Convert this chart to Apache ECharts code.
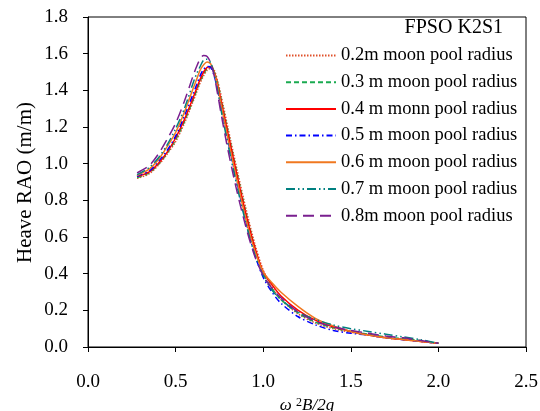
<!DOCTYPE html>
<html>
<head>
<meta charset="utf-8">
<script src="https://cdn.jsdelivr.net/npm/echarts@6/dist/echarts.min.js"></script>
<style>html,body{margin:0;padding:0;background:#fff}#c{width:540px;height:411px}</style>
</head>
<body>
<div id="c"></div>
<script>
const xs = [0.28,0.30,0.35,0.40,0.45,0.50,0.55,0.60,0.62,0.64,0.66,0.68,0.70,0.72,0.74,0.76,0.80,0.85,0.90,0.95,1.00,1.05,1.10,1.20,1.30,1.40,1.50,1.60,1.70,1.80,1.90,2.00];
const r02 = [0.92,0.925,0.945,0.99,1.05,1.12,1.22,1.34,1.39,1.44,1.48,1.51,1.52,1.51,1.45,1.37,1.19,0.97,0.76,0.57,0.42,0.33,0.26,0.18,0.13,0.10,0.08,0.065,0.05,0.04,0.03,0.02];
const r03 = [0.925,0.93,0.95,0.995,1.055,1.13,1.23,1.35,1.40,1.45,1.49,1.52,1.525,1.50,1.44,1.35,1.17,0.95,0.74,0.55,0.40,0.32,0.26,0.185,0.135,0.105,0.085,0.07,0.055,0.045,0.035,0.02];
const r04 = [0.93,0.935,0.955,1.00,1.06,1.14,1.24,1.36,1.41,1.46,1.50,1.525,1.53,1.50,1.43,1.34,1.16,0.94,0.73,0.55,0.41,0.34,0.28,0.20,0.145,0.11,0.085,0.065,0.05,0.04,0.03,0.02];
const r05 = [0.93,0.94,0.96,1.01,1.07,1.15,1.26,1.38,1.43,1.48,1.515,1.53,1.525,1.48,1.40,1.31,1.12,0.90,0.69,0.51,0.38,0.30,0.24,0.165,0.12,0.09,0.075,0.065,0.05,0.04,0.03,0.02];
const r06 = [0.935,0.945,0.97,1.02,1.09,1.17,1.28,1.41,1.46,1.51,1.54,1.555,1.545,1.50,1.42,1.32,1.13,0.91,0.70,0.53,0.41,0.35,0.30,0.22,0.155,0.115,0.085,0.065,0.05,0.04,0.03,0.02];
const r07 = [0.94,0.95,0.98,1.03,1.10,1.19,1.30,1.44,1.49,1.53,1.565,1.57,1.55,1.49,1.40,1.29,1.10,0.88,0.68,0.51,0.39,0.31,0.26,0.19,0.15,0.12,0.10,0.085,0.07,0.055,0.04,0.02];
const r08 = [0.95,0.96,0.99,1.05,1.13,1.22,1.34,1.48,1.53,1.57,1.59,1.585,1.55,1.48,1.38,1.27,1.07,0.85,0.66,0.50,0.39,0.32,0.27,0.19,0.14,0.11,0.09,0.075,0.06,0.05,0.035,0.02];
const names = ['0.2m moon pool radius','0.3 m moon pool radius','0.4 m monn pool radius','0.5 m moon pool radius','0.6 m moon pool radius','0.7 m moon pool radius','0.8m moon pool radius'];
const seriesVals = [r02,r03,r04,r05,r06,r07,r08];
const colors = ['#e0502a','#1aaa50','#ff0000','#0000ff','#f07820','#008080','#7a1f8f'];
const dashes = [[1.5,1.5],[5,3],'solid',[6,3,1.5,3],'solid',[9,3,1.5,3,1.5,3],[11,6]];
const F = 'Liberation Serif';

const chart = echarts.init(document.getElementById('c'));
chart.setOption({
  animation:false,
  backgroundColor:'#fff',
  color: colors,
  textStyle:{fontFamily:F},
  title:{text:'FPSO K2S1',right:37,top:18,textStyle:{fontFamily:F,fontSize:20,fontWeight:'normal',color:'#000'},padding:0},
  legend:{orient:'vertical',left:285,top:46,itemWidth:50,itemHeight:18,itemGap:7.7,padding:0,
    itemStyle:{opacity:0,borderWidth:0},
    textStyle:{fontFamily:F,fontSize:18.5,color:'#000'},data:names},
  grid:{left:88,right:14,top:17,bottom:64,show:true,borderColor:'#000',borderWidth:1,outerBoundsMode:'none',containLabel:false},
  graphic:[{type:'text',left:15,top:102,rotation:Math.PI/2,
    style:{text:'Heave RAO (m/m)',fontFamily:F,fontSize:21,fill:'#000'}}],
  xAxis:{type:'value',min:0,max:2.5,interval:0.5,
    name:'{i|ω }{s|2}{i|B/2g}',nameLocation:'middle',nameGap:42,
    nameTextStyle:{rich:{i:{fontFamily:F,fontStyle:'italic',fontSize:17,color:'#000'},s:{fontFamily:F,fontSize:12,color:'#000',verticalAlign:'top',padding:[0,0,6,0]}}},
    axisLine:{lineStyle:{color:'#000',width:1}},axisTick:{length:5,lineStyle:{color:'#000'}},
    splitLine:{show:false},
    axisLabel:{formatter:v=>v.toFixed(1),fontFamily:F,fontSize:19,color:'#000',margin:26}},
  yAxis:{type:'value',min:0,max:1.8,interval:0.2,
    axisLine:{show:true,lineStyle:{color:'#000',width:1}},axisTick:{show:true,length:5,lineStyle:{color:'#000'}},
    splitLine:{show:false},
    axisLabel:{formatter:v=>v.toFixed(1),fontFamily:F,fontSize:19,color:'#000',margin:8,padding:[0,12,0,0]}},
  series: names.map((n,i)=>({
    name:n,type:'line',showSymbol:false,symbol:'none',smooth:0.3,
    lineStyle:{color:colors[i],width:1.5,type:dashes[i]},
    itemStyle:{color:colors[i]},
    data: xs.map((x,j)=>[x,seriesVals[i][j]])
  }))
});
</script>
</body>
</html>
